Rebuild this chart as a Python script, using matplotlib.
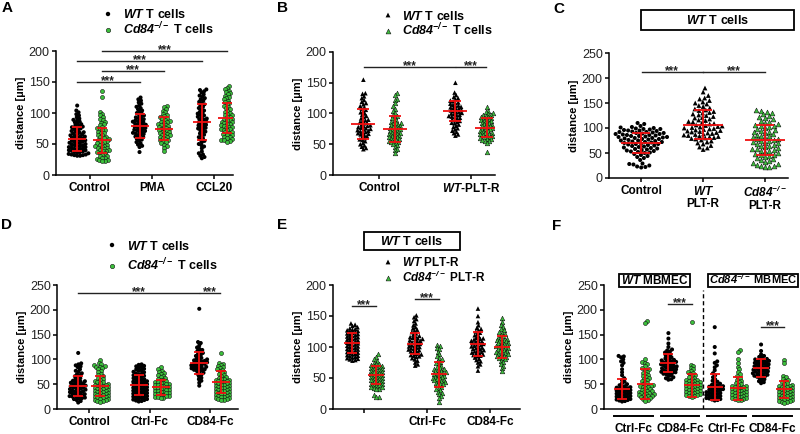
import numpy as np
import matplotlib
matplotlib.use("Agg")
import matplotlib.pyplot as plt
from matplotlib.patches import Rectangle

plt.rcParams['font.family'] = ['Liberation Sans', 'DejaVu Sans']
# everything inside $...$ is bold italic (gene names), plain text stays bold upright
plt.rcParams['mathtext.fontset'] = 'custom'
plt.rcParams['mathtext.rm'] = 'Liberation Sans:bold:italic'
plt.rcParams['mathtext.it'] = 'Liberation Sans:bold:italic'
plt.rcParams['mathtext.bf'] = 'Liberation Sans:bold:italic'

# ---------------- data (distance in um) ----------------
# Panel A: Control / PMA / CCL20, WT vs Cd84-/- T cells
a_categories = ["Control", "PMA", "CCL20"]
a_ctrl_wt = [112, 104, 101, 98, 96, 93, 91, 89, 88, 86, 85, 83, 82, 80, 79, 78, 77, 76, 75, 74, 72, 71, 70, 69,
             68, 67, 66, 65, 64, 63, 62, 62, 61, 60, 59, 58, 57, 56, 56, 55, 54, 53, 52, 52, 51, 50, 49, 48, 48,
             47, 46, 45, 45, 44, 43, 42, 42, 41, 40, 40, 39, 38, 37, 37, 36, 35, 34, 33, 33, 32, 32, 31, 31]
a_ctrl_ko = [135, 126, 101, 99, 96, 94, 91, 88, 86, 84, 82, 80, 78, 76, 75, 73, 72, 70, 68, 67, 65, 64, 62, 61,
             60, 58, 57, 56, 55, 54, 53, 51, 50, 49, 48, 47, 46, 45, 44, 43, 42, 41, 40, 39, 38, 37, 36, 35, 33,
             31, 30, 28, 27, 26, 25, 24, 23, 22]
a_pma_wt = [125, 122, 120, 117, 115, 112, 110, 108, 106, 104, 102, 100, 99, 97, 96, 94, 93, 92, 90, 89, 88, 87,
            86, 85, 84, 83, 82, 81, 80, 79, 78, 77, 76, 75, 74, 73, 72, 71, 70, 69, 68, 67, 66, 65, 64, 62, 61,
            60, 58, 57, 55, 53, 51, 49, 47, 45, 37]
a_pma_ko = [111, 110, 106, 104, 101, 99, 97, 95, 93, 92, 90, 88, 87, 86, 85, 84, 82, 81, 80, 79, 78, 77, 76, 75,
            74, 73, 72, 71, 70, 69, 68, 67, 66, 65, 64, 63, 62, 61, 60, 58, 57, 56, 55, 53, 51, 49, 47, 44, 39]
a_ccl20_wt = [138, 137, 135, 133, 130, 128, 126, 124, 122, 120, 118, 116, 114, 112, 110, 108, 106, 104, 102, 100,
              99, 97, 96, 94, 93, 91, 90, 89, 87, 86, 85, 84, 82, 81, 80, 79, 77, 76, 75, 74, 72, 70, 69, 67, 65,
              63, 61, 59, 57, 55, 53, 50, 48, 46, 43, 38, 35, 33, 31, 29, 27]
a_ccl20_ko = [144, 141, 138, 136, 134, 132, 130, 128, 126, 124, 122, 120, 118, 116, 114, 112, 110, 108, 106, 104,
              102, 100, 99, 97, 96, 94, 93, 91, 90, 89, 88, 86, 85, 84, 83, 82, 80, 79, 78, 77, 76, 75, 74, 73,
              72, 70, 69, 68, 66, 65, 64, 62, 61, 60, 58, 57, 56, 55, 54]
a_means = [58, 56, 79, 75, 86, 92]
a_sds = [19, 20, 19, 18, 29, 24]

# Panel B: Control / WT-PLT-R
b_categories = ["Control", r"$WT$-PLT-R"]
b_ctrl_wt = [155, 133, 132, 128, 125, 122, 119, 117, 115, 112, 110, 108, 106, 104, 102, 100, 98, 96, 94, 92, 90,
             89, 88, 86, 85, 84, 82, 81, 80, 79, 78, 77, 76, 75, 74, 73, 72, 71, 70, 69, 68, 67, 66, 65, 63, 62,
             60, 58, 57, 55, 52, 50, 48, 46, 44, 42]
b_ctrl_ko = [133, 130, 124, 122, 117, 112, 108, 104, 101, 98, 96, 94, 92, 90, 88, 86, 85, 84, 83, 82, 81, 80, 79,
             78, 77, 76, 75, 74, 73, 72, 71, 70, 69, 68, 67, 66, 65, 64, 63, 62, 61, 60, 59, 58, 57, 56, 55, 54,
             53, 52, 50, 48, 46, 43, 40, 35]
b_pltr_wt = [150, 134, 130, 127, 125, 123, 121, 120, 118, 117, 116, 114, 113, 112, 111, 110, 109, 108, 107, 106,
             105, 104, 103, 102, 101, 100, 99, 98, 97, 96, 95, 94, 93, 92, 90, 89, 88, 86, 85, 84, 82, 80, 78, 76,
             74, 72, 70, 68, 66, 64]
b_pltr_ko = [111, 104, 102, 100, 99, 98, 97, 96, 95, 94, 93, 92, 91, 90, 89, 88, 87, 86, 85, 84, 83, 82, 81, 80,
             79, 78, 77, 76, 75, 74, 73, 72, 71, 70, 69, 68, 67, 66, 65, 64, 63, 62, 61, 60, 59, 58, 57, 56, 55,
             52, 37]
b_means = [83, 75, 104, 77]
b_sds = [24, 21, 17, 15]

# Panel C: WT T cells on Control / WT PLT-R / Cd84-/- PLT-R
c_categories = ["Control", "$WT$\nPLT-R", "$Cd84^{-/-}$\nPLT-R"]
c_ctrl = [110, 108, 104, 102, 101, 100, 99, 98, 98, 97, 96, 95, 95, 94, 93, 92, 92, 91, 90, 90, 89, 88, 88, 87,
          86, 86, 85, 84, 84, 83, 82, 82, 81, 80, 80, 79, 78, 78, 77, 76, 75, 75, 74, 73, 72, 72, 71, 70, 69, 68,
          68, 67, 66, 65, 64, 63, 62, 61, 60, 59, 58, 57, 56, 55, 54, 53, 52, 51, 50, 48, 46, 44, 42, 40, 36, 29,
          28, 27, 25, 23, 22, 21]
c_wt_pltr = [180, 172, 165, 160, 158, 155, 152, 150, 148, 145, 143, 140, 138, 136, 135, 133, 131, 130, 128, 126,
             125, 123, 121, 120, 118, 116, 115, 113, 112, 110, 109, 108, 106, 105, 104, 103, 102, 101, 100, 99,
             98, 97, 96, 95, 94, 93, 92, 91, 90, 89, 88, 87, 86, 85, 84, 83, 82, 81, 80, 79, 78, 76, 74, 72, 70,
             68, 65, 62, 60, 57]
c_ko_pltr = [137, 135, 133, 130, 128, 125, 122, 120, 118, 115, 112, 110, 108, 106, 105, 104, 102, 100, 98, 96,
             95, 93, 92, 90, 88, 87, 85, 84, 82, 80, 79, 78, 76, 75, 74, 72, 71, 70, 68, 67, 65, 64, 62, 60, 59,
             58, 56, 55, 54, 52, 50, 48, 47, 46, 44, 42, 40, 38, 36, 34, 32, 30, 28, 26, 25, 24, 23, 22]
c_means = [70, 107, 76]
c_sds = [20, 29, 30]

# Panel D: Control / Ctrl-Fc / CD84-Fc, WT vs Cd84-/- T cells
d_categories = ["Control", "Ctrl-Fc", "CD84-Fc"]
d_ctrl_wt = [113, 92, 90, 88, 86, 84, 80, 77, 75, 72, 70, 68, 66, 64, 62, 60, 58, 57, 56, 55, 54, 53, 52, 51, 50,
             49, 48, 47, 46, 45, 44, 43, 42, 41, 40, 39, 38, 37, 36, 35, 34, 33, 32, 31, 30, 29, 28, 27, 26, 25,
             24, 23, 22, 21, 20, 18, 16, 13]
d_ctrl_ko = [98, 93, 90, 88, 86, 85, 84, 82, 80, 77, 74, 71, 68, 66, 64, 62, 60, 58, 56, 55, 54, 52, 50, 49, 48,
             47, 46, 45, 44, 43, 42, 41, 40, 39, 38, 37, 36, 35, 34, 33, 32, 31, 30, 29, 28, 27, 26, 25, 24, 23,
             22, 21, 20, 19, 18, 17, 16, 15]
d_ctrlfc_wt = [90, 89, 87, 86, 84, 83, 81, 80, 78, 77, 75, 74, 72, 71, 70, 68, 67, 66, 64, 63, 62, 60, 59, 58, 57,
               56, 55, 54, 53, 52, 51, 50, 49, 48, 47, 46, 45, 44, 43, 42, 41, 40, 39, 38, 37, 36, 35, 34, 33,
               32, 31, 30, 29, 28, 27, 26, 25, 24, 23, 22, 21, 20, 19, 18, 17, 16, 15]
d_ctrlfc_ko = [84, 80, 77, 75, 73, 71, 69, 67, 65, 63, 61, 59, 58, 56, 55, 54, 53, 52, 51, 50, 49, 48, 47, 46, 45,
               44, 43, 42, 41, 40, 39, 38, 37, 36, 35, 34, 33, 32, 31, 30, 29, 28, 27, 26, 25, 24, 23, 22]
d_cd84fc_wt = [202, 135, 133, 128, 124, 121, 119, 117, 115, 113, 111, 109, 107, 105, 103, 101, 100, 99, 98, 97,
               96, 95, 94, 93, 92, 91, 90, 89, 88, 87, 86, 85, 84, 83, 82, 81, 80, 79, 78, 77, 75, 73, 71, 69,
               66, 63, 60, 57, 53, 47]
d_cd84fc_ko = [112, 93, 91, 89, 87, 85, 83, 81, 79, 77, 75, 73, 71, 69, 67, 65, 63, 61, 60, 59, 58, 57, 56, 55,
               54, 53, 52, 51, 50, 49, 48, 47, 46, 45, 44, 43, 42, 41, 40, 39, 38, 37, 36, 35, 34, 33, 32, 31, 30,
               29, 28, 27, 26, 25, 24, 23, 22, 21, 20, 19, 18]
d_means = [46, 46, 48, 44, 93, 54]
d_sds = [20, 20, 20, 15, 22, 22]

# Panel E: WT T cells on WT / Cd84-/- PLT-R, untreated / Ctrl-Fc / CD84-Fc
e_categories = ["", "Ctrl-Fc", "CD84-Fc"]
e_none_wt = [138, 136, 134, 132, 130, 129, 128, 127, 126, 125, 124, 123, 122, 121, 120, 119, 118, 117, 116, 115,
             114, 113, 112, 111, 110, 109, 108, 107, 106, 105, 104, 103, 102, 101, 100, 99, 98, 97, 96, 95, 94,
             93, 92, 91, 90, 89, 88, 87, 86, 85, 84, 83, 82, 81, 80, 79, 78]
e_none_ko = [88, 84, 80, 77, 75, 73, 72, 71, 70, 69, 68, 67, 66, 65, 64, 63, 62, 61, 60, 59, 58, 57, 56, 55, 54,
             53, 52, 51, 50, 49, 48, 47, 46, 45, 44, 43, 42, 41, 40, 39, 38, 37, 36, 35, 34, 33, 32, 22, 20, 19]
e_ctrlfc_wt = [151, 148, 145, 142, 138, 135, 132, 130, 128, 126, 124, 122, 120, 118, 117, 116, 115, 114, 113,
               112, 111, 110, 109, 108, 107, 106, 105, 104, 103, 102, 101, 100, 99, 98, 97, 96, 95, 94, 93, 92,
               90, 89, 88, 87, 86, 85, 84, 82, 80, 78, 75, 72, 70]
e_ctrlfc_ko = [104, 101, 99, 96, 92, 88, 85, 82, 80, 78, 76, 74, 72, 70, 68, 66, 65, 64, 63, 62, 61, 60, 59, 58,
               57, 56, 55, 54, 53, 52, 51, 50, 49, 48, 47, 46, 45, 44, 43, 42, 41, 40, 38, 36, 34, 32, 30, 28, 26,
               24, 21, 18, 12]
e_cd84fc_wt = [162, 150, 140, 135, 131, 129, 127, 125, 123, 121, 119, 117, 115, 114, 113, 112, 111, 110, 109,
               108, 107, 106, 105, 104, 103, 102, 101, 100, 99, 98, 97, 96, 95, 94, 93, 92, 91, 90, 89, 88, 87,
               86, 85, 83, 81, 79, 77, 75, 72, 69, 62]
e_cd84fc_ko = [146, 140, 135, 132, 129, 127, 125, 123, 121, 119, 117, 115, 114, 113, 112, 111, 110, 109, 108,
               107, 106, 105, 104, 103, 102, 101, 100, 99, 98, 97, 96, 95, 94, 93, 92, 91, 90, 89, 88, 87, 86,
               85, 84, 83, 82, 80, 78, 76, 73, 70, 66, 61]
e_means = [107, 55, 105, 56, 105, 100]
e_sds = [16, 14, 17, 20, 19, 17]

# Panel F: WT / Cd84-/- MBMEC, Ctrl-Fc / CD84-Fc
f_categories = ["Ctrl-Fc", "CD84-Fc", "Ctrl-Fc", "CD84-Fc"]
f_wt_ctrlfc_wt = [107, 106, 104, 100, 96, 93, 88, 80, 74, 68, 62, 58, 55, 52, 50, 48, 46, 45, 44, 43, 42, 41, 40,
                  39, 38, 37, 36, 35, 34, 33, 32, 31, 30, 29, 28, 27, 26, 25, 24, 23, 22, 21, 20, 19, 18, 17, 16, 15]
f_wt_ctrlfc_ko = [178, 173, 101, 94, 92, 90, 86, 82, 80, 78, 75, 72, 70, 68, 66, 64, 62, 60, 58, 56, 54, 52, 50,
                  49, 48, 47, 46, 45, 44, 42, 40, 38, 37, 36, 35, 34, 33, 32, 31, 30, 29, 28, 27, 26, 25, 24, 22,
                  20, 18, 17]
f_wt_cd84fc_wt = [153, 142, 132, 125, 120, 118, 116, 114, 112, 110, 108, 106, 104, 102, 100, 99, 98, 97, 96, 95,
                  94, 93, 92, 91, 90, 89, 88, 87, 86, 85, 84, 83, 82, 81, 80, 79, 78, 77, 76, 75, 74, 73, 72, 71,
                  70, 68, 66, 64, 62, 60, 59]
f_wt_cd84fc_ko = [175, 89, 86, 83, 80, 77, 75, 73, 71, 69, 67, 65, 63, 61, 59, 58, 57, 56, 55, 54, 53, 52, 51, 50,
                  49, 48, 47, 46, 45, 44, 43, 42, 41, 40, 39, 38, 37, 36, 35, 34, 33, 32, 31, 30, 29, 28, 27, 26, 25]
f_ko_ctrlfc_wt = [165, 125, 112, 96, 93, 88, 84, 78, 72, 68, 64, 60, 57, 55, 53, 51, 49, 48, 47, 46, 45, 44, 43,
                  42, 41, 40, 39, 38, 37, 36, 35, 34, 33, 32, 31, 30, 29, 28, 27, 26, 25, 24, 23, 22, 21, 20, 19,
                  18, 17]
f_ko_ctrlfc_ko = [118, 115, 100, 92, 85, 80, 75, 70, 66, 62, 59, 56, 54, 52, 50, 48, 47, 46, 45, 44, 43, 42, 41,
                  40, 39, 38, 37, 36, 35, 34, 33, 32, 31, 30, 29, 28, 27, 26, 25, 24, 23, 22, 21, 20, 19, 18]
f_ko_cd84fc_wt = [130, 117, 110, 107, 105, 103, 101, 100, 99, 98, 97, 96, 95, 94, 93, 92, 91, 90, 89, 88, 87, 86,
                  85, 84, 83, 82, 81, 80, 79, 78, 77, 76, 75, 74, 73, 72, 71, 70, 69, 68, 67, 66, 65, 64, 62, 60,
                  58, 56, 54, 52]
f_ko_cd84fc_ko = [99, 93, 67, 64, 61, 58, 56, 54, 52, 50, 48, 47, 46, 45, 44, 43, 42, 41, 40, 39, 38, 37, 36, 35,
                  34, 33, 32, 31, 30, 29, 28, 27, 26, 25, 24, 23, 22, 21, 20, 19, 18, 17, 16, 15, 14, 13]
f_means = [40, 50, 92, 48, 45, 42, 83, 40]
f_sds = [20, 30, 18, 23, 26, 23, 18, 17]

# ---------------- drawing ----------------
W, H = 800, 434
BLACK = "#000000"
GREEN = "#3cc03c"
RED = "#f01010"

fig = plt.figure(figsize=(W / 100, H / 100), dpi=100, facecolor="white")


def add_panel(l, t, r, b, xlim, ylim, yticks):
    ax = fig.add_axes([l / W, 1 - b / H, (r - l) / W, (b - t) / H])
    ax.set_xlim(*xlim)
    ax.set_ylim(*ylim)
    ax.set_yticks(yticks)
    ax.spines[["top", "right"]].set_visible(False)
    for s in ["left", "bottom"]:
        ax.spines[s].set_linewidth(1.1)
    ax.tick_params(axis="y", labelsize=9, length=3, width=1.1, pad=1.5, labelcolor="#222222")
    ax.tick_params(axis="x", labelsize=8.5, length=3, width=1.1, pad=2)
    ax.set_ylabel("distance [µm]", fontsize=8, fontweight="bold", labelpad=2)
    ax.patch.set_alpha(0)
    return ax


def px_per_unit(ax):
    p = ax.transData.transform([(0, 0), (1, 0)])
    return p[1, 0] - p[0, 0]


def swarm(ax, x0, vals, d):
    # beeswarm offsets computed in pixel space
    ys = ax.transData.transform(np.column_stack([np.full(len(vals), x0), vals]))[:, 1]
    offs = np.zeros(len(vals))
    px, py = [], []
    for i in np.argsort(ys):
        y = ys[i]
        near = [(a, b) for a, b in zip(px, py) if abs(b - y) < d]
        cands = [0.0]
        for a, b in near:
            dx = np.sqrt(d ** 2 - (b - y) ** 2)
            cands += [a + dx, a - dx]
        cands.sort(key=abs)
        for c in cands:
            if all((c - a) ** 2 + (y - b) ** 2 >= d ** 2 - 1e-6 for a, b in near):
                break
        offs[i] = c
        px.append(c)
        py.append(y)
    return x0 + offs / px_per_unit(ax)


def draw_groups(ax, xs, groups, colors, marker, means, sds, mean_hw, cap_hw, d=2.9, s=8.5):
    ppu = px_per_unit(ax)
    for x, vals, col, m, sd in zip(xs, groups, colors, means, sds):
        xx = swarm(ax, x, vals, d)
        ec = "none" if col == BLACK else "#111111"
        ax.scatter(xx, vals, s=s, marker=marker, c=col, edgecolors=ec, linewidths=0.4,
                   zorder=3, clip_on=False)
        ax.hlines(m, x - mean_hw / ppu, x + mean_hw / ppu, color=RED, lw=1.3, zorder=4)
        ax.vlines(x, m - sd, m + sd, color=RED, lw=1.3, zorder=4)
        ax.hlines([m - sd, m + sd], x - cap_hw / ppu, x + cap_hw / ppu, color=RED, lw=1.3, zorder=4)


def sig(ax, x1, x2, y, gap=0.0):
    ax.plot([x1 + gap, x2 - gap], [y, y], color="#222222", lw=1.0, clip_on=False, zorder=2)
    ax.annotate("***", ((x1 + x2) / 2, y), xytext=(0, -1.5), textcoords="offset points",
                ha="center", va="baseline", fontsize=8.5, fontweight="bold", color="#222222")


# ---- A ----
o = 0.2
axA = add_panel(56, 51, 233, 175, (0.46, 3.3), (0, 200), range(0, 201, 50))
xa = [1 - o, 1 + o, 2 - o, 2 + o, 3 - o, 3 + o]
draw_groups(axA, xa, [a_ctrl_wt, a_ctrl_ko, a_pma_wt, a_pma_ko, a_ccl20_wt, a_ccl20_ko],
            [BLACK, GREEN] * 3, "o", a_means, a_sds, 9, 5)
axA.set_xticks([1, 2, 3])
axA.set_xticklabels(a_categories, fontweight="bold")
sig(axA, 1 - o, 2 - o, 150)
sig(axA, 1 + o, 2 + o, 168)
sig(axA, 1 - o, 3 - o, 184)
sig(axA, 1 + o, 3 + o, 200)

# ---- B ----
o = 0.17
axB = add_panel(333, 52, 495, 175, (0.5, 2.26), (0, 200), range(0, 201, 50))
xb = [1 - o, 1 + o, 2 - o, 2 + o]
draw_groups(axB, xb, [b_ctrl_wt, b_ctrl_ko, b_pltr_wt, b_pltr_ko],
            [BLACK, GREEN] * 2, "^", b_means, b_sds, 12, 6, s=11)
axB.set_xticks([1, 2])
axB.set_xticklabels(b_categories, fontweight="bold")
sig(axB, 1 - o, 2 - o, 176, gap=0.005)
sig(axB, 2 - o, 2 + o, 176, gap=0.01)

# ---- C ----
axC = add_panel(609, 53, 788, 178, (0.48, 3.37), (0, 250), range(0, 251, 50))
draw_groups(axC, [1], [c_ctrl], [BLACK], "o", c_means[:1], c_sds[:1], 20, 9, d=4.2)
draw_groups(axC, [2, 3], [c_wt_pltr, c_ko_pltr], [BLACK, GREEN], "^", c_means[1:], c_sds[1:], 20, 9,
            d=4.4, s=12)
axC.set_xticks([1, 2, 3])
axC.set_xticklabels(c_categories, fontweight="bold", linespacing=1.0, va="top")
sig(axC, 1, 2, 212, gap=0.005)
sig(axC, 2, 3, 212, gap=0.005)

# ---- D ----
o = 0.18
axD = add_panel(57, 285, 238, 409, (0.47, 3.46), (0, 250), range(0, 251, 50))
xd = [1 - o, 1 + o, 2 - o, 2 + o, 3 - o, 3 + o]
draw_groups(axD, xd, [d_ctrl_wt, d_ctrl_ko, d_ctrlfc_wt, d_ctrlfc_ko, d_cd84fc_wt, d_cd84fc_ko],
            [BLACK, GREEN] * 3, "o", d_means, d_sds, 9, 5)
axD.set_xticks([1, 2, 3])
axD.set_xticklabels(d_categories, fontweight="bold")
sig(axD, 1 - o, 3 - o, 234, gap=0.005)
sig(axD, 3 - o, 3 + o, 234, gap=0.01)

# ---- E ----
o = 0.19
axE = add_panel(333, 285, 520, 409, (0.5, 3.48), (0, 200), range(0, 201, 50))
xe = [1 - o, 1 + o, 2 - o, 2 + o, 3 - o, 3 + o]
draw_groups(axE, xe, [e_none_wt, e_none_ko, e_ctrlfc_wt, e_ctrlfc_ko, e_cd84fc_wt, e_cd84fc_ko],
            [BLACK, GREEN] * 3, "^", e_means, e_sds, 8, 5, s=11)
axE.set_xticks([1, 2, 3])
axE.set_xticklabels(e_categories, fontweight="bold")
sig(axE, 1 - o, 1 + o, 166)
sig(axE, 2 - o, 2 + o, 177)

# ---- F ----
o = 0.25
axF = add_panel(604, 285, 800, 409, (-0.64, 3.59), (0, 250), range(0, 251, 50))
xf = []
for g in range(4):
    xf += [g - o, g + o]
draw_groups(axF, xf, [f_wt_ctrlfc_wt, f_wt_ctrlfc_ko, f_wt_cd84fc_wt, f_wt_cd84fc_ko,
                      f_ko_ctrlfc_wt, f_ko_ctrlfc_ko, f_ko_cd84fc_wt, f_ko_cd84fc_ko],
            [BLACK, GREEN] * 4, "o", f_means, f_sds, 8, 5)
axF.set_xticks([])
axF.plot([1.5, 1.5], [0, 240], color="black", lw=1.0, dashes=(3, 2))
for g, lab in enumerate(f_categories):
    axF.plot([g - 0.42, g + 0.42], [-14, -14], color="black", lw=1.4, clip_on=False)
    axF.text(g, -41, lab, ha="center", va="center", fontsize=8.5, fontweight="bold")
sig(axF, 1 - o, 1 + o, 212)
sig(axF, 3 - o, 3 + o, 165)

# ---------------- overlay: panel letters, legends, boxes ----------------
ov = fig.add_axes([0, 0, 1, 1])
ov.set_xlim(0, W)
ov.set_ylim(H, 0)
ov.axis("off")

for letter, (x, y) in zip("ABCDEF", [(7, 8), (282, 8), (559, 9), (7, 225), (282, 225), (557, 226)]):
    ov.text(x, y, letter, fontsize=11, fontweight="bold", ha="center", va="center")


def legend(xm, xt, ys, labels, marker, s, fs):
    for y, lab, col in zip(ys, labels, [BLACK, GREEN]):
        ec = "none" if col == BLACK else "#111111"
        ov.scatter([xm], [y], marker=marker, s=s, c=col, edgecolors=ec, linewidths=0.4)
        ov.text(xt, y + 4.5, lab, fontsize=fs, fontweight="bold", ha="left", va="baseline")


tcell_labels = [r"$WT$ T cells", r"$Cd84^{-/-}$ T cells"]
pltr_labels = [r"$WT$ PLT-R", r"$Cd84^{-/-}$ PLT-R"]
legend(108, 123, [14, 30], tcell_labels, "o", 10, 9)
legend(388, 402, [15, 31], tcell_labels, "^", 12, 9)
legend(112, 127, [245, 266], tcell_labels, "o", 10, 9)
legend(388, 402, [262, 278], pltr_labels, "^", 12, 8.5)


def box(x0, y0, x1, y1, label, fs=9):
    ov.add_patch(Rectangle((x0, y0), x1 - x0, y1 - y0, fill=False, lw=1.3, ec="black"))
    ov.text((x0 + x1) / 2, (y0 + y1) / 2 + 4, label, fontsize=fs, fontweight="bold",
            ha="center", va="baseline")


box(641, 10, 794, 30, r"$WT$ T cells")
box(364, 232, 460, 250, r"$WT$ T cells")
box(619, 274, 690, 287, r"$WT$ MBMEC", fs=8.5)
box(708, 274, 798, 287, r"$Cd84^{-/-}$ MBMEC", fs=8)

fig.savefig("out.png", dpi=100, facecolor="white")
